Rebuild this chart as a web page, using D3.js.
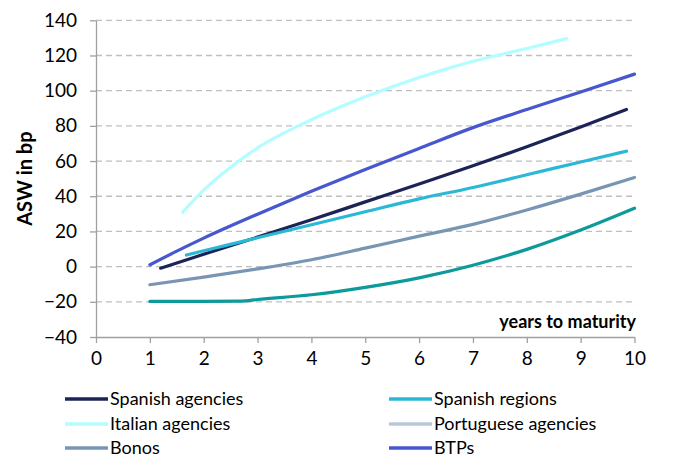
<!DOCTYPE html>
<html>
<head>
<meta charset="utf-8">
<script src="https://cdn.jsdelivr.net/npm/d3@7"></script>
<style>
  html, body { margin: 0; padding: 0; background: #fff; }
  svg { display: block; font-family: Lato, "Open Sans", sans-serif; }
</style>
</head>
<body>
<svg id="chart" width="680" height="460"></svg>
<script>
// Asset swap spreads by years to maturity (bp)
const yTicks = [-40, -20, 0, 20, 40, 60, 80, 100, 120, 140];
const xTicks = [0, 1, 2, 3, 4, 5, 6, 7, 8, 9, 10];

const spanishAgenciesX = [1.2, 2, 3, 4, 5, 6, 7, 8, 9, 9.85];
const spanishAgenciesY = [-0.9, 7, 16.8, 26.6, 36.8, 47, 57.3, 68.1, 79.3, 89.3];

const spanishRegionsX = [1.68, 2, 3, 4, 5, 6, 7, 8, 9, 9.85];
const spanishRegionsY = [6.6, 9, 16.4, 23.8, 31.2, 38.5, 45, 52.2, 59.5, 65.6];

const italianAgenciesX = [1.61, 2, 2.5, 3, 4, 5, 6, 7, 8, 8.74];
const italianAgenciesY = [31, 43.5, 56.5, 67.5, 83.5, 96.5, 107.5, 116.7, 124, 129.6];

const portugueseAgenciesX = [];
const portugueseAgenciesY = [];

const bonosX = [1, 2, 3, 4, 5, 6, 7, 8, 9, 10];
const bonosY = [-10.3, -6, -1.3, 3.9, 10.5, 17.3, 24, 32.2, 41.2, 50.7];

const btpsX = [1, 1.5, 2, 3, 4, 5, 6, 7, 8, 9, 10];
const btpsY = [1, 8.8, 16.2, 29.8, 42.8, 55.2, 67.2, 79, 89.3, 99.3, 109.4];

// Portuguese government bonds: drawn, but not listed in the legend
const pgbsX = [1, 2, 2.7, 3, 4, 5, 6, 7, 8, 9, 10];
const pgbsY = [-19.8, -19.8, -19.6, -18.7, -16, -11.8, -6.4, 0.8, 9.8, 20.8, 33.2];

const series = [
  { name: "Spanish agencies",    xs: spanishAgenciesX,    ys: spanishAgenciesY,    color: "#1c2357", legend: true },
  { name: "Spanish regions",     xs: spanishRegionsX,     ys: spanishRegionsY,     color: "#2ab8d6", legend: true },
  { name: "Italian agencies",    xs: italianAgenciesX,    ys: italianAgenciesY,    color: "#b2fdff", legend: true },
  { name: "Portuguese agencies", xs: portugueseAgenciesX, ys: portugueseAgenciesY, color: "#b8c8db", legend: true },
  { name: "Bonos",               xs: bonosX,              ys: bonosY,              color: "#7896b4", legend: true },
  { name: "BTPs",                xs: btpsX,               ys: btpsY,               color: "#4757cf", legend: true },
  { name: "PGBs",                xs: pgbsX,               ys: pgbsY,               color: "#0e9a9c", legend: false }
];

const svg = d3.select("#chart");

const x = d3.scaleLinear().domain([0, 10]).range([96, 634.5]);
const y = d3.scaleLinear().domain([-40, 140]).range([337, 20.3]);

// dashed horizontal gridlines
svg.append("g")
  .selectAll("line")
  .data(yTicks.filter(v => v > -40))
  .join("line")
  .attr("x1", x(0)).attr("x2", x(10))
  .attr("y1", d => y(d)).attr("y2", d => y(d))
  .attr("stroke", "#bfbfbf")
  .attr("stroke-width", 1.3)
  .attr("stroke-dasharray", "6,4");

const axisColor = "#a0a0a0";

// y axis
const gy = svg.append("g")
  .attr("transform", `translate(${x(0)},0)`)
  .call(d3.axisLeft(y).tickValues(yTicks).tickSize(6).tickSizeOuter(0).tickPadding(13));
gy.select(".domain").attr("stroke", axisColor).attr("stroke-width", 1.3);
gy.selectAll(".tick line").attr("stroke", axisColor).attr("stroke-width", 1.3);
gy.selectAll(".tick text")
  .attr("font-family", "Lato, sans-serif")
  .attr("font-size", 19)
  .attr("fill", "#000");

// x axis
const gx = svg.append("g")
  .attr("transform", `translate(0,${y(-40)})`)
  .call(d3.axisBottom(x).tickValues(xTicks).tickSize(6).tickSizeOuter(0).tickPadding(9));
gx.select(".domain").attr("stroke", axisColor).attr("stroke-width", 1.3);
gx.selectAll(".tick line").attr("stroke", axisColor).attr("stroke-width", 1.3);
gx.selectAll(".tick text")
  .attr("font-family", "Lato, sans-serif")
  .attr("font-size", 19)
  .attr("fill", "#000");

// axis titles
svg.append("text")
  .attr("transform", `translate(32,${(y(-40) + y(140)) / 2}) rotate(-90)`)
  .attr("text-anchor", "middle")
  .attr("font-family", "Lato, sans-serif")
  .attr("font-weight", "bold")
  .attr("font-size", 20)
  .attr("fill", "#000")
  .text("ASW in bp");

svg.append("text")
  .attr("x", 636)
  .attr("y", 328)
  .attr("text-anchor", "end")
  .attr("font-family", "Lato, sans-serif")
  .attr("font-weight", "bold")
  .attr("font-size", 18)
  .attr("fill", "#000")
  .text("years to maturity");

// series lines
const line = d3.line()
  .x(d => x(d[0]))
  .y(d => y(d[1]))
  .curve(d3.curveMonotoneX);

svg.append("g")
  .selectAll("path")
  .data(series.filter(s => s.xs.length > 0))
  .join("path")
  .attr("d", s => line(s.xs.map((v, i) => [v, s.ys[i]])))
  .attr("fill", "none")
  .attr("stroke", s => s.color)
  .attr("stroke-width", 3.2)
  .attr("stroke-linecap", "round")
  .attr("stroke-linejoin", "round");

// legend: two columns, three rows
const legendItems = series.filter(s => s.legend);
const colX = [65, 389];
const rowY = [399, 424, 448];
const lg = svg.append("g")
  .selectAll("g")
  .data(legendItems)
  .join("g")
  .attr("transform", (d, i) => `translate(${colX[i % 2]},${rowY[Math.floor(i / 2)]})`);

lg.append("line")
  .attr("x1", 0).attr("x2", 43)
  .attr("y1", 0).attr("y2", 0)
  .attr("stroke", d => d.color)
  .attr("stroke-width", 3.5);

lg.append("text")
  .attr("x", 45)
  .attr("y", 0)
  .attr("dy", "0.35em")
  .attr("font-family", "Lato, sans-serif")
  .attr("font-size", 18)
  .attr("fill", "#000")
  .text(d => d.name);
</script>
</body>
</html>
